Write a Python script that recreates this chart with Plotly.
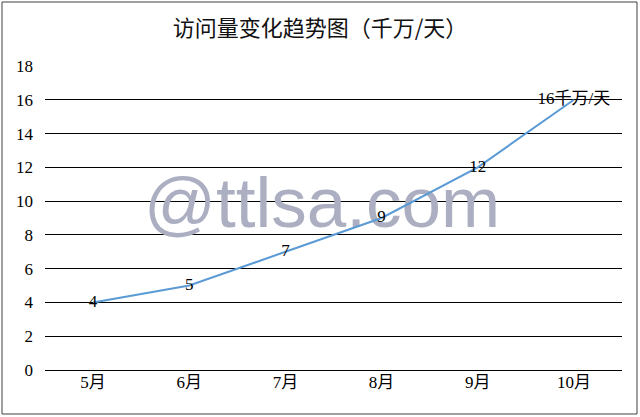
import plotly.graph_objects as go

# 数据
months = ["5月", "6月", "7月", "8月", "9月", "10月"]
visits = [4, 5, 7, 9, 12, 16]
point_labels = ["4", "5", "7", "9", "12", "16千万/天"]
y_ticks = [0, 2, 4, 6, 8, 10, 12, 14, 16, 18]
watermark = "@ttlsa.com"

SERIF = "Liberation Serif, Noto Sans CJK SC, serif"
x_pos = list(range(len(months)))

fig = go.Figure()

# 水印放在折线下面
fig.add_trace(go.Scatter(
    x=[2.38], y=[9.5], mode="text", text=[watermark],
    textposition="middle center",
    textfont=dict(family="Liberation Sans, Arial", size=71, color="#ABAFC1"),
    hoverinfo="skip", showlegend=False,
))

fig.add_trace(go.Scatter(
    x=x_pos, y=visits, mode="lines+text", text=point_labels,
    textposition="middle center",
    textfont=dict(family=SERIF, size=17, color="#000000"),
    line=dict(color="#5B9BD5", width=2),
    showlegend=False,
))

fig.update_layout(
    width=640, height=417,
    margin=dict(l=45, r=18, t=66, b=47, autoexpand=False),
    paper_bgcolor="white", plot_bgcolor="white",
    title=dict(text="访问量变化趋势图（千万/天）", x=0.5, xanchor="center",
               y=1 - 28 / 417, yanchor="middle", automargin=False,
               font=dict(family="Noto Sans CJK SC", size=22, color="#111111")),
    shapes=[dict(type="rect", xref="paper", yref="paper",
                 x0=-0.0745, x1=1.026, y0=-0.1447, y1=1.2105,
                 line=dict(color="#404040", width=1))],
)

fig.update_xaxes(
    range=[-0.5, len(months) - 0.5], tickvals=x_pos, ticktext=months,
    showgrid=False, zeroline=False, showline=False, ticks="", automargin=False,
    tickfont=dict(family=SERIF, size=17, color="#000000"),
)
fig.update_yaxes(
    range=[0, 18], tickvals=y_ticks,
    showgrid=True, gridcolor="#000000", gridwidth=1,
    zeroline=True, zerolinecolor="#000000", zerolinewidth=1,
    showline=False, ticks="", ticklabelstandoff=11, automargin=False,
    tickfont=dict(family=SERIF, size=17, color="#000000"),
)

# 去掉页面默认边距
fig.write_html("out.html", config={"displayModeBar": False},
               post_script="document.body.style.margin='0';")
